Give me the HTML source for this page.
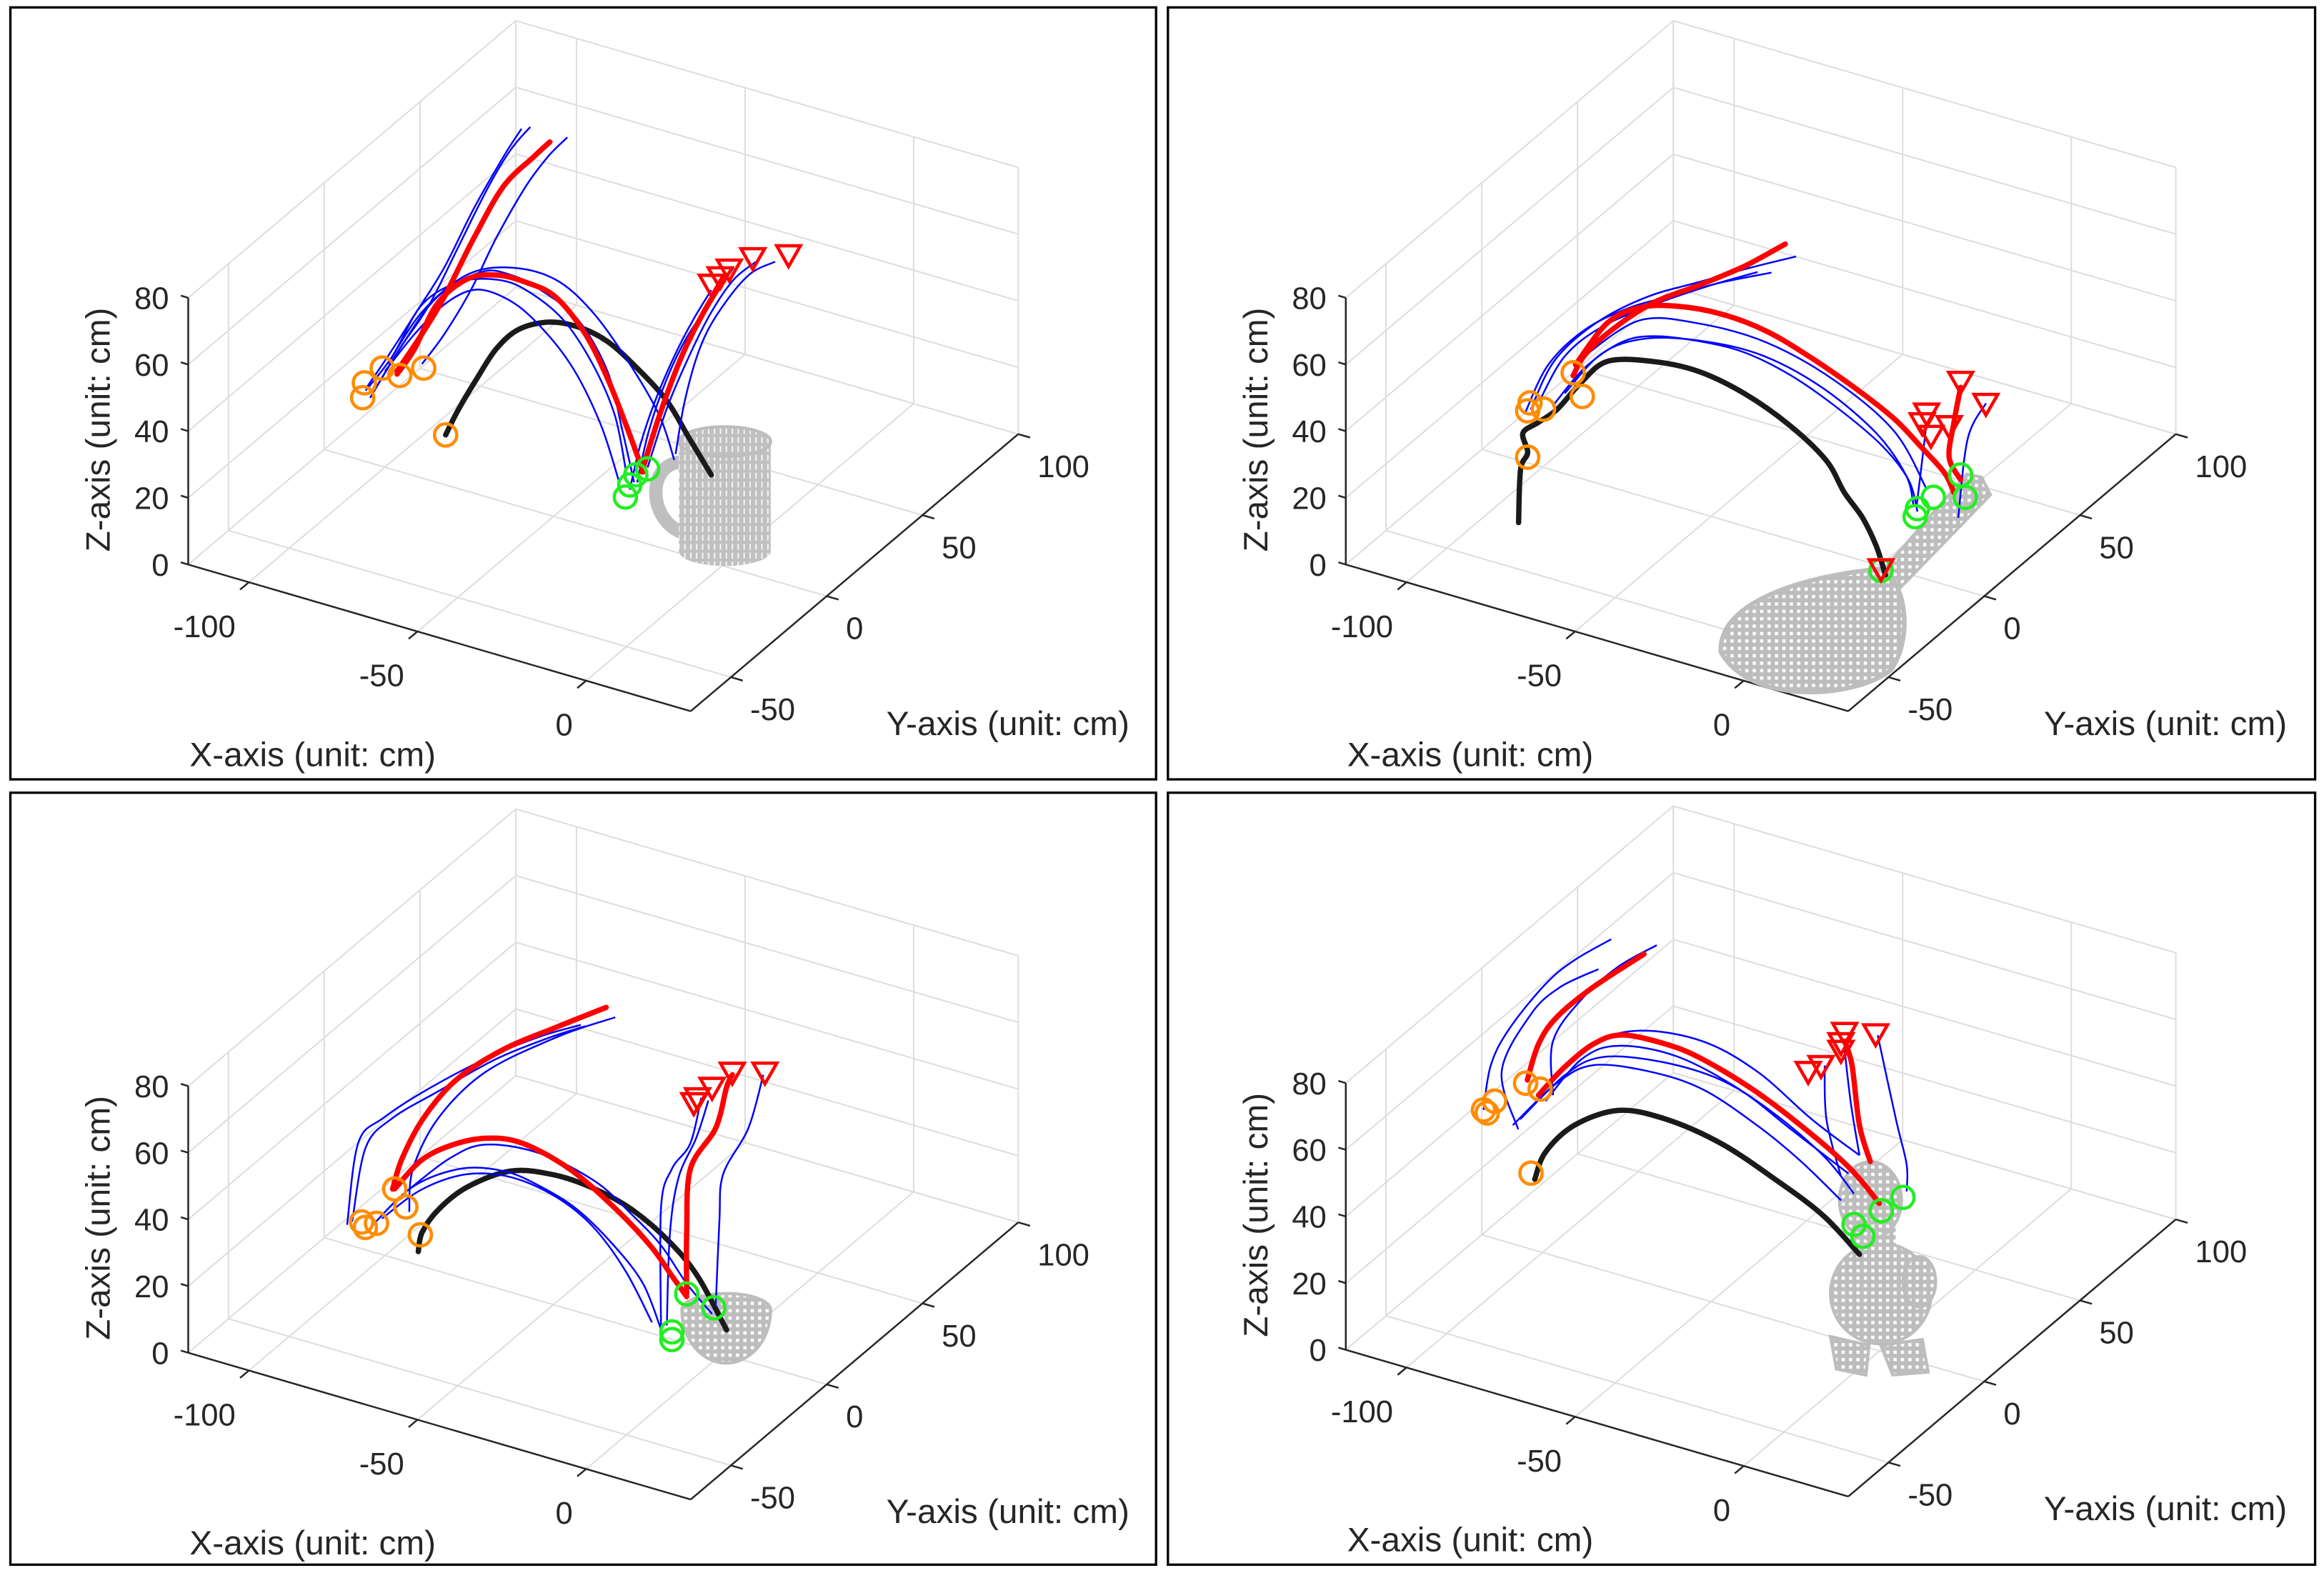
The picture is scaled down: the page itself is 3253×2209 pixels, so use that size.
<!DOCTYPE html>
<html><head><meta charset="utf-8"><title>3D trajectories</title>
<style>html,body{margin:0;padding:0;background:#fff;}svg{display:block;}</style>
</head><body>
<svg id="chart" xmlns="http://www.w3.org/2000/svg" width="3253" height="2209" viewBox="0 0 1568 1065" preserveAspectRatio="none" font-family="'Liberation Sans', Arial, sans-serif">
<defs>
<pattern id="mesh" width="5" height="5" patternUnits="userSpaceOnUse"><rect width="5" height="5" fill="#bdbdbd"/><rect x="1.5" y="1.5" width="2.2" height="2.2" fill="#ffffff"/></pattern>
<pattern id="meshV" width="4" height="6" patternUnits="userSpaceOnUse"><rect width="4" height="6" fill="#c0c0c0"/><rect x="1.6" y="1" width="1" height="4" fill="#f4f4f4"/></pattern>
</defs>
<g id="layer"></g>
</svg>
<script>
// ---- axis ranges ----
const XMIN = -118, XMAX = 31, YMIN = -71, YMAX = 100, ZMAX = 80;
const X_TICKS = [-100, -50, 0];
const Y_TICKS = [-50, 0, 50, 100];
const Z_TICKS = [0, 20, 40, 60, 80];
const TRAJ_Y = 0;

// ================= TOP-LEFT (mug) =================
const TL_BLACK_X = [-82,-78,-72.7,-67,-60.4,-51.6,-42.8,-34,-25.2,-16.4,-9.8,-3.2];
const TL_BLACK_Z = [15,24.2,34.7,45.2,53,57.8,59,57.2,51.8,44.6,35.4,26.3];
const TL_RED_X = [
  [-96.4,-89,-82.4,-73.6,-64.8,-56,-51.1],
  [-96.4,-91.2,-84.6,-75.8,-67,-58.2,-49.4,-40.6,-34,-28.7,-23.4],
  [-23.8,-18.6,-12,-5.4,1.2]];
const TL_RED_Z = [
  [29.9,43.2,56.3,76.6,94.7,106,112],
  [29,38.1,53.4,63.5,67.4,67.8,66,57.5,46.1,34.3,21.2],
  [21.1,39.5,59.2,74.5,87.5]];
const TL_BLUE_X = [
  [-105.7,-99.1,-91.2,-82.4,-73.6,-64.8,-59.5],
  [-104.4,-95.6,-86.8,-78,-69.2,-62.6,-56.9],
  [-89,-82.4,-74.5,-67,-58.2,-51.6,-45.9],
  [-105.7,-97.8,-89,-78,-67,-58.2,-47.2,-38.4,-31.8,-28.3],
  [-104.4,-95.6,-84.6,-71.4,-62.6,-53.8,-42.8,-34,-29.6,-26.1],
  [-100,-91.2,-82.4,-73.6,-64.8,-56,-45,-36.2,-30.5],
  [-99.1,-89,-75.8,-62.6,-49.4,-38.4,-27.4,-18.6,-14.2],
  [-27.4,-24.3,-19.9,-14.2,-8.5,-3.2],
  [-25.2,-21.7,-16.4,-10.7,-4.1,3.4],
  [-22.1,-16.4,-9.8,-3.2,3.4,10],
  [-13.8,-11.1,-6.7,-1,7.8,15.7]];
const TL_BLUE_Z = [
  [21.8,33.6,48.3,65.1,85.5,103.6,113.5],
  [19.5,36.8,52.7,73.1,93.4,106.4,114.8],
  [34.2,45.1,60.7,78.5,96.6,107.5,114.9],
  [21.3,33.9,52,62,66,65.5,59.9,49.1,35.6,18.8],
  [19.5,36.8,55.5,67,68.7,66.8,61.2,48.2,31.8,17.3],
  [28.8,42.5,54,61,61.4,57.4,47.2,32.1,16],
  [31.3,49.8,64.8,70.9,71.2,64.7,52.4,39.5,27.5],
  [14.7,28.9,43.5,58.6,71.4,81.7],
  [17.5,34.2,51.2,64.9,77,90.4],
  [22.9,42.3,59.9,75.1,86.8,94.1],
  [29.4,46.1,63,75.8,89.4,95.8]];
const TL_ORANGE_X = [-106.6,-106.1,-100.8,-95.6,-88.5,-82];
const TL_ORANGE_Z = [18.9,23.5,29.5,28.8,33.1,15];
const TL_GREEN_X = [-28.7,-27.4,-25.6,-22.1];
const TL_GREEN_Z = [12.1,16.1,19.7,22.5];
const TL_TRI_X = [-3.2,-0.6,2.1,9.1,19.7];
const TL_TRI_Z = [83.5,86.5,89.6,95.1,99.1];

// ================= TOP-RIGHT (racket) =================
const TR_BLACK_X = [-107.1,-106.5,-104.4,-105.8,-101.1,-95.6,-88.9,-80.8,-67.2,-53.7,-40.2,-26.7,-15.9,-10.5,-5.1,-1,1.7];
const TR_BLACK_Z = [-18.7,-2.7,3.1,8.5,13.2,18.7,28.3,37.4,41.4,42.4,39.8,34.2,26.9,18.9,12.9,5.5,-2.3];
const TR_RED_X = [
  [-90.9,-87.5,-79.4,-67.2,-53.7,-40.2,-28],
  [-90.2,-80.8,-71.3,-60.5,-46.9,-33.4,-19.9,-6.4,4.4,12.6,19.3,22],
  [24,20.6,22,24]];
const TR_RED_Z = [
  [30.1,37.3,47.3,59,68.2,77.9,88.2],
  [33.6,48.9,56.3,60,61.6,60.4,56.2,50.7,45.3,39,33.4,28.4],
  [32.9,38.5,49.4,60.6]];
const TR_BLUE_X = [
  [-105.1,-98.3,-87.5,-74,-60.5,-46.9,-32.1],
  [-103.5,-96.5,-84.6,-69.2,-53.8,-38.4,-24.8],
  [-100.9,-93.4,-82.4,-67,-51.6,-36.2],
  [-97,-87.5,-76.7,-67.2,-53.7,-40.2,-26.7,-13.1,0.4,8.5,11.2],
  [-87.7,-71.3,-53.7,-33.4,-13.1,4.4,13.9],
  [-93.4,-82.4,-69.2,-51.6,-34,-16.4,-1,7.8,10],
  [10.9,12.6,13.9],
  [23.3,26.1,31.5]];
const TR_BLUE_Z = [
  [14.9,31.2,44.9,55.6,63.3,71.1,78.4],
  [16.3,32.9,47.5,60.1,69.1,78,85.4],
  [19.6,35.2,47.3,58.5,68.4,77.4],
  [19.2,33.5,44.3,49,51.5,52.1,49.4,43.9,36.4,28.3,19.5],
  [36.9,52.5,56.8,57,51.5,41.5,27],
  [24.1,39.3,47.7,52,52.7,48.1,39.4,29.4,21.3],
  [20.7,35.4,47],
  [21.2,45.8,58]];
const TR_ORANGE_X = [-103.7,-104.4,-99.7,-90.9,-88.2,-104.4];
const TR_ORANGE_Z = [18.2,15.6,17.5,31,24.7,1.7];
const TR_GREEN_X = [24,25.4,15.9,11.2,10.5,0.4];
const TR_GREEN_Z = [34.3,28,25.2,20.4,17.8,-1.3];
const TR_TRI_X = [24,31.5,13.9,12.6,15.2,20.6,0.4];
const TR_TRI_Z = [62.4,58,49.9,46.6,43.6,48.1,-0.8];

// ================= BOTTOM-LEFT (bowl) =================
const BL_BLACK_X = [-90.1,-89,-84.1,-75.4,-62.5,-49.5,-37.6,-26.8,-16,-7.3,1.3];
const BL_BLACK_Z = [4.1,10.1,18.5,27.9,36.4,39,38.3,35.4,29.3,21.2,7.6];
const BL_RED_X = [
  [-97.7,-94.9,-88.5,-78.7,-64.7,-48.4,-34.4],
  [-97.1,-89.5,-80.9,-70.1,-59.3,-45.2,-32.2,-21.4,-14.9,-10.5],
  [-10.5,-10.5,-9.4,-1.9,1.3,3]];
const BL_RED_Z = [
  [20.6,30.6,44.7,59.1,72.3,84,93.8],
  [20.8,31.4,38.5,44,45.7,42.1,34.6,26.3,19,14.1],
  [14.9,33.2,52.7,67.2,80.3,84.6]];
const BL_BLUE_X = [
  [-111.2,-107.9,-100.4,-86.3,-69,-53.8,-41.9],
  [-109.7,-105.7,-97.8,-84.2,-67,-51.6,-40.6],
  [-92.8,-91.7,-84.1,-70.1,-48.4,-31.7],
  [-103.6,-91.7,-77.6,-64.7,-53.8,-43,-32.2,-23.5,-18.1],
  [-92.8,-80.9,-70.1,-53.8,-37.6,-26.8,-18.1,-10.5,-3],
  [-100.9,-89,-75.8,-62.6,-49.4,-38.4,-28.7,-20.8],
  [-18.1,-18.1,-14.9,-9.4,-6.2],
  [-1.9,-0.8,0.3,7.8,12.2],
  [-16.4,-15.5,-12.9,-7.6,-4.1]];
const BL_BLUE_Z = [
  [5.9,31.4,41.2,54.5,68.7,79.4,86.3],
  [7.3,30.7,41.8,53.9,68.7,79.5,86.3],
  [15.2,28.4,46,63.9,81,91.6],
  [8.1,23.1,32.6,35.7,34.3,30.6,23.1,14.2,2],
  [22,34.7,42.1,44.2,40.6,33.9,27.2,18,11.1],
  [10.8,23.1,31.5,34.5,32.6,26.9,16.5,3.3],
  [2,38.7,51.1,60.4,75],
  [13.7,39.9,54,70.1,87.3],
  [3.7,31.5,49.2,62.7,74.8]];
const BL_ORANGE_X = [-97.1,-93.8,-105.8,-102.5,-89.5,-106.9];
const BL_ORANGE_Z = [20.8,16.4,6.7,8.9,9.3,8];
const BL_GREEN_X = [-10.5,-2.5,-14.9,-14.9];
const BL_GREEN_Z = [14.9,13.1,2.2,-0.1];
const BL_TRI_X = [-8.4,-7.3,-3,3,12.7];
const BL_TRI_Z = [72.9,74.7,79.1,85.4,88.3];

// ================= BOTTOM-RIGHT (duck) =================
const BR_BLACK_X = [-102.3,-99.1,-90.5,-77.4,-63.4,-47.2,-30.9,-16.8,-6];
const BR_BLACK_Z = [21.3,30.4,41,49.3,50.8,48.4,42.3,35.7,27.2];
const BR_RED_X = [
  [-104.5,-101.2,-95.8,-85,-69.9],
  [-101.2,-93.7,-85,-76.4,-63.4,-52.6,-36.3,-20.1,-8.2,-0.1],
  [-2.8,-6,-8.2,-10.4]];
const BR_RED_Z = [
  [50.4,62.1,71.8,84,98.4],
  [46.8,57.2,66.9,72.2,73.3,72,66.8,59,51.7,44.2],
  [56,65.9,83.2,89.8]];
const BR_BLUE_X = [
  [-117.5,-115.3,-109.9,-99.1,-90.5,-79.6],
  [-107.2,-112.1,-103.4,-94.8,-83.4],
  [-96.9,-96.9,-88.3,-77.4,-66.1],
  [-99.1,-85,-71,-52.6,-36.3,-20.1,-6],
  [-108.8,-95.8,-85,-68.8,-52.6,-36.3,-23.4,-11.5],
  [-99.1,-88.3,-77.4,-60.1,-41.7,-25.5,-9.3],
  [-106.6,-93.4,-82.4,-64.8,-47.2,-31.8,-16.4,-7.6],
  [-11.5,-15.8,-16.3],
  [8,8,4.8,-0.6],
  [-6,-8.5,-10.4]];
const BR_BLUE_Z = [
  [37.6,51.7,64.1,80.8,90.5,100],
  [34.8,50.8,70.5,81.1,89.9],
  [48.1,64.3,79.5,92.5,102.2],
  [49.3,66.9,75.1,77.4,73.1,63.5,56.9],
  [35.6,52,60.6,63.6,63,56.9,50,41.8],
  [45.7,61.5,68.7,70.6,66.2,58.3,50.5],
  [38,55.1,63.8,67.6,67.4,62.2,53.4,44.9],
  [49,64.8,80.8],
  [50.2,58.3,70.9,94.5],
  [56.9,71.4,87.1]];
const BR_ORANGE_X = [-117.5,-116.4,-114.2,-105,-100.7,-103.4];
const BR_ORANGE_Z = [37.6,37,41.2,49.3,48.8,22.8];
const BR_GREEN_X = [6.9,0.5,-5,-7.6];
const BR_GREEN_Z = [48.1,42.2,32.9,35.7];
const BR_TRI_X = [-21.2,-17.4,-11.5,-11.5,-10.4,-1.2];
const BR_TRI_Z = [77.6,80.5,89.1,86.8,92.5,94.8];

const PANELS = [
  {key:'top-left', ox:0, oy:0, object:'mug', black:[TL_BLACK_X,TL_BLACK_Z], red:[TL_RED_X,TL_RED_Z], blue:[TL_BLUE_X,TL_BLUE_Z], orange:[TL_ORANGE_X,TL_ORANGE_Z], green:[TL_GREEN_X,TL_GREEN_Z], tri:[TL_TRI_X,TL_TRI_Z]},
  {key:'top-right', ox:781, oy:0, object:'racket', black:[TR_BLACK_X,TR_BLACK_Z], red:[TR_RED_X,TR_RED_Z], blue:[TR_BLUE_X,TR_BLUE_Z], orange:[TR_ORANGE_X,TR_ORANGE_Z], green:[TR_GREEN_X,TR_GREEN_Z], tri:[TR_TRI_X,TR_TRI_Z]},
  {key:'bottom-left', ox:0, oy:532, object:'bowl', black:[BL_BLACK_X,BL_BLACK_Z], red:[BL_RED_X,BL_RED_Z], blue:[BL_BLUE_X,BL_BLUE_Z], orange:[BL_ORANGE_X,BL_ORANGE_Z], green:[BL_GREEN_X,BL_GREEN_Z], tri:[BL_TRI_X,BL_TRI_Z]},
  {key:'bottom-right', ox:781, oy:530, object:'duck', black:[BR_BLACK_X,BR_BLACK_Z], red:[BR_RED_X,BR_RED_Z], blue:[BR_BLUE_X,BR_BLUE_Z], orange:[BR_ORANGE_X,BR_ORANGE_Z], green:[BR_GREEN_X,BR_GREEN_Z], tri:[BR_TRI_X,BR_TRI_Z]}
];

const NS = 'http://www.w3.org/2000/svg';
const root = document.getElementById('layer');
function mk(tag, attrs, parent) {
  const el = document.createElementNS(NS, tag);
  for (const k in attrs) el.setAttribute(k, attrs[k]);
  parent.appendChild(el);
  return el;
}
function proj(p, x, y, z) {
  const u = (x - XMIN) / (XMAX - XMIN), v = (y - YMIN) / (YMAX - YMIN), w = z / ZMAX;
  return [p.ox + 127 + u * 339 + v * 221, p.oy + 381 + u * 99 - v * 187 - w * 180];
}
function smooth(pts) {
  let d = 'M' + pts[0][0].toFixed(1) + ',' + pts[0][1].toFixed(1);
  for (let i = 0; i < pts.length - 1; i++) {
    const p0 = pts[i - 1] || pts[i], p1 = pts[i], p2 = pts[i + 1], p3 = pts[i + 2] || p2;
    const c1 = [p1[0] + (p2[0] - p0[0]) / 6, p1[1] + (p2[1] - p0[1]) / 6];
    const c2 = [p2[0] - (p3[0] - p1[0]) / 6, p2[1] - (p3[1] - p1[1]) / 6];
    d += ' C' + c1[0].toFixed(1) + ',' + c1[1].toFixed(1) + ' ' + c2[0].toFixed(1) + ',' + c2[1].toFixed(1) + ' ' + p2[0].toFixed(1) + ',' + p2[1].toFixed(1);
  }
  return d;
}
function line(g, a, b, stroke, sw) {
  return mk('line', {x1:a[0], y1:a[1], x2:b[0], y2:b[1], stroke:stroke, 'stroke-width':sw}, g);
}
function txt(g, x, y, s, size, anchor) {
  const t = mk('text', {x:x, y:y, 'font-size':size, fill:'#262626', 'text-anchor':anchor}, g);
  t.textContent = s;
  return t;
}

function drawObject(p, g) {
  const o = mk('g', {transform:'translate(' + p.ox + ',' + p.oy + ')'}, g);
  
  
  if (p.object === 'mug') {
    mk('path', {d:'M462,312 C436,310 436,352 462,360', fill:'none', stroke:'#bfbfbf', 'stroke-width':9}, o);
    mk('path', {d:'M458,298 L458,372 A31,10 0 0 0 520,372 L520,298 Z', fill:'url(#meshV)'}, o);
    mk('ellipse', {cx:489, cy:298, rx:31, ry:10, fill:'url(#meshV)', stroke:'#bdbdbd', 'stroke-width':2}, o);
  } else if (p.object === 'racket') {
    mk('polygon', {points:'478,398 494,404 562,334 556,322 546,320', fill:'url(#mesh)', stroke:'#bdbdbd', 'stroke-width':2}, o);
    mk('path', {d:'M380,440 C378,405 440,388 488,384 C505,392 510,430 495,452 C470,472 400,476 380,440 Z', fill:'url(#mesh)', stroke:'#bdbdbd', 'stroke-width':3}, o);
  } else if (p.object === 'bowl') {
    mk('path', {d:'M460,352 A30,36 0 0 0 520,352 A30,11 0 0 0 460,352 Z', fill:'url(#mesh)', stroke:'#bdbdbd', 'stroke-width':2}, o);
  } else if (p.object === 'duck') {
    mk('polygon', {points:'454,372 480,378 478,398 458,394', fill:'url(#mesh)', stroke:'#bdbdbd', 'stroke-width':2}, o);
    mk('polygon', {points:'488,378 516,374 520,396 496,398', fill:'url(#mesh)', stroke:'#bdbdbd', 'stroke-width':2}, o);
    mk('ellipse', {cx:488, cy:343, rx:34, ry:34, fill:'url(#mesh)', stroke:'#bdbdbd', 'stroke-width':2}, o);
    mk('ellipse', {cx:514, cy:335, rx:11, ry:17, fill:'url(#mesh)', stroke:'#bdbdbd', 'stroke-width':2}, o);
    mk('rect', {x:468, y:280, width:30, height:45, fill:'url(#mesh)'}, o);
    mk('ellipse', {cx:481, cy:280, rx:21, ry:26, fill:'url(#mesh)', stroke:'#bdbdbd', 'stroke-width':2}, o);
  }
}

PANELS.forEach(function (p) {
  const g = mk('g', {}, root);
  
  

  const w = p.ox === 0 ? 773 : 774;
  const border = mk('rect', {x:p.ox + 7, y:(p.oy ? 535 : 5), width:w, height:521, fill:'none', stroke:'#000', 'stroke-width':1.6}, g);
  
  

  const grid = mk('g', {}, g);
  
  
  const GC = '#dedede';
  Z_TICKS.forEach(function (z) {
    line(grid, proj(p, XMIN, YMIN, z), proj(p, XMIN, YMAX, z), GC, 1);
    line(grid, proj(p, XMIN, YMAX, z), proj(p, XMAX, YMAX, z), GC, 1);
  });
  line(grid, proj(p, XMIN, YMAX, 0), proj(p, XMIN, YMAX, ZMAX), GC, 1);
  line(grid, proj(p, XMAX, YMAX, 0), proj(p, XMAX, YMAX, ZMAX), GC, 1);
  Y_TICKS.forEach(function (y) {
    line(grid, proj(p, XMIN, y, 0), proj(p, XMIN, y, ZMAX), GC, 1);
    line(grid, proj(p, XMIN, y, 0), proj(p, XMAX, y, 0), GC, 1);
  });
  X_TICKS.forEach(function (x) {
    line(grid, proj(p, x, YMAX, 0), proj(p, x, YMAX, ZMAX), GC, 1);
    line(grid, proj(p, x, YMIN, 0), proj(p, x, YMAX, 0), GC, 1);
  });

  const ax = mk('g', {}, g);
  
  
  const AC = '#262626';
  line(ax, proj(p, XMIN, YMIN, 0), proj(p, XMIN, YMIN, ZMAX), AC, 1.2);
  line(ax, proj(p, XMIN, YMIN, 0), proj(p, XMAX, YMIN, 0), AC, 1.2);
  line(ax, proj(p, XMAX, YMIN, 0), proj(p, XMAX, YMAX, 0), AC, 1.2);
  Z_TICKS.forEach(function (z) {
    const q = proj(p, XMIN, YMIN, z);
    line(ax, q, [q[0] - 5, q[1] - 1.5], AC, 1.2);
    const t = txt(ax, q[0] - 13, q[1] + 7.5, String(z), 21, 'end');
    
    
  });
  X_TICKS.forEach(function (x) {
    const q = proj(p, x, YMIN, 0);
    line(ax, q, [q[0] - 6, q[1] + 5], AC, 1.2);
    const t = txt(ax, q[0] - 9, q[1] + 37, String(x), 21, 'end');
    
    
  });
  Y_TICKS.forEach(function (y) {
    const q = proj(p, XMAX, y, 0);
    line(ax, q, [q[0] + 8, q[1] + 2.3], AC, 1.2);
    const t = txt(ax, q[0] + 13, q[1] + 29, String(y), 21, 'start');
    
    
  });
  const xt = txt(ax, p.ox + 211, p.oy + 517, 'X-axis (unit: cm)', 23, 'middle');
  
  
  const yt = txt(ax, p.ox + 680, p.oy + 496, 'Y-axis (unit: cm)', 23, 'middle');
  
  
  const zt = txt(ax, 0, 0, 'Z-axis (unit: cm)', 23, 'middle');
  zt.setAttribute('transform', 'translate(' + (p.ox + 74) + ',' + (p.oy + 290) + ') rotate(-90)');
  
  

  drawObject(p, g);

  const bpts = p.black[0].map(function (x, i) { return proj(p, x, TRAJ_Y, p.black[1][i]); });
  const bl = mk('path', {d:smooth(bpts), fill:'none', stroke:'#1a1a1a', 'stroke-width':3.6, 'stroke-linecap':'round'}, g);
  
  

  p.blue[0].forEach(function (xs, k) {
    const pts = xs.map(function (x, i) { return proj(p, x, TRAJ_Y, p.blue[1][k][i]); });
    const el = mk('path', {d:smooth(pts), fill:'none', stroke:'#0000ff', 'stroke-width':1.2}, g);
    
    
  });

  p.red[0].forEach(function (xs, k) {
    const pts = xs.map(function (x, i) { return proj(p, x, TRAJ_Y, p.red[1][k][i]); });
    const el = mk('path', {d:smooth(pts), fill:'none', stroke:'#ff0000', 'stroke-width':3.6, 'stroke-linecap':'round'}, g);
    
    
  });

  p.orange[0].forEach(function (x, i) {
    const q = proj(p, x, TRAJ_Y, p.orange[1][i]);
    const c = mk('circle', {cx:q[0], cy:q[1], r:7.5, fill:'none', stroke:'#ff8c00', 'stroke-width':2.2}, g);
    
    
  });
  p.green[0].forEach(function (x, i) {
    const q = proj(p, x, TRAJ_Y, p.green[1][i]);
    const c = mk('circle', {cx:q[0], cy:q[1], r:7.5, fill:'none', stroke:'#22ee22', 'stroke-width':2.2}, g);
    
    
  });
  p.tri[0].forEach(function (x, i) {
    const q = proj(p, x, TRAJ_Y, p.tri[1][i]);
    const pts = (q[0] - 8) + ',' + (q[1] - 6) + ' ' + (q[0] + 8) + ',' + (q[1] - 6) + ' ' + q[0] + ',' + (q[1] + 8);
    const t = mk('polygon', {points:pts, fill:'none', stroke:'#ff0000', 'stroke-width':2.2}, g);
    
    
  });
});
</script>
</body></html>
